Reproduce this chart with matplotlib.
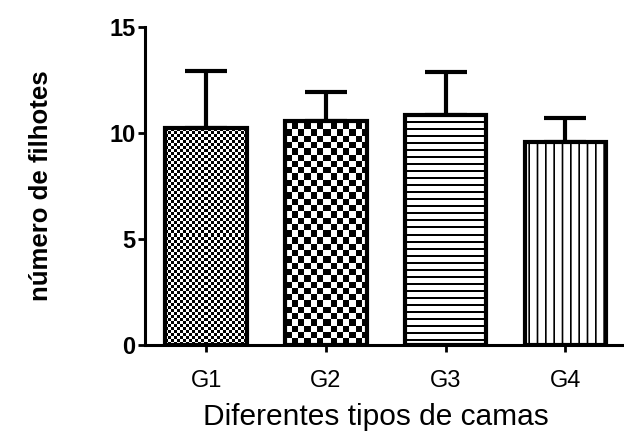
import numpy as np
import matplotlib.pyplot as plt

plt.rcParams['font.family'] = ['Liberation Sans', 'DejaVu Sans']
plt.rcParams['hatch.linewidth'] = 1.2

groups = ['G1', 'G2', 'G3', 'G4']
means = [10.24, 10.57, 10.84, 9.58]
sds = [2.67, 1.37, 2.01, 1.12]
yticks = [0, 5, 10, 15]


def addTexture(ax, bar, kind, period):
    # fill the bar with a pixel pattern (checkerboard or horizontal stripes)
    x0, y0 = bar.get_x(), bar.get_y()
    x1, y1 = x0 + bar.get_width(), y0 + bar.get_height()
    (px0, py0), (px1, py1) = ax.transData.transform([(x0, y0), (x1, y1)])
    w = int(round(px1 - px0))
    h = int(round(py1 - py0))
    yy, xx = np.mgrid[0:h, 0:w]
    if kind == 'check':
        arr = ((xx // period).astype(int) + (yy // period).astype(int)) % 2
    else:
        arr = ((h - 1 - yy) % period < 2).astype(int)
    im = ax.imshow(arr, cmap='gray_r', vmin=0, vmax=1, extent=(x0, x1, y0, y1),
                   origin='lower', interpolation='nearest', aspect='auto', zorder=2.5)
    im.set_clip_path(bar)


fig = plt.figure(figsize=(6.24, 4.36), dpi=100)
ax = fig.add_axes([0.2324, 0.2087, 0.7676, 0.7301])
x = np.arange(len(groups))
ax.set_xlim(-0.51, 3.49)
ax.set_ylim(0, 15)

ax.errorbar(x, means, yerr=[np.zeros(len(sds)), sds], fmt='none', ecolor='black',
            elinewidth=3, capsize=15, capthick=3, zorder=1)
bars = ax.bar(x, means, width=0.68, color='white', edgecolor='black', linewidth=0, zorder=2)
bars[3].set_hatch('||')

addTexture(ax, bars[0], 'check', 3)
addTexture(ax, bars[1], 'check', 6.3)
addTexture(ax, bars[2], 'hline', 7)

ax.bar(x, means, width=0.68, fill=False, edgecolor='black', linewidth=3, zorder=3)

ax.set_xlim(-0.51, 3.49)
ax.set_ylim(0, 15)
ax.spines['top'].set_visible(False)
ax.spines['right'].set_visible(False)
ax.spines['left'].set_linewidth(2.2)
ax.spines['bottom'].set_linewidth(2.2)
ax.set_yticks(yticks)
ax.set_xticks(x)
ax.set_xticklabels(groups)
ax.tick_params(axis='y', length=5, width=2, pad=2, labelsize=17)
ax.tick_params(axis='x', length=5, width=2, pad=13, labelsize=17)
for lab in ax.get_yticklabels():
    lab.set_fontweight('bold')

ax.set_xlabel('Diferentes tipos de camas', fontsize=21.5, labelpad=8)
ax.xaxis.set_label_coords(0.482, -0.183)
ax.set_ylabel('número de filhotes', fontsize=18.5, fontweight='bold', labelpad=40)

fig.savefig('out.png', dpi=100)
